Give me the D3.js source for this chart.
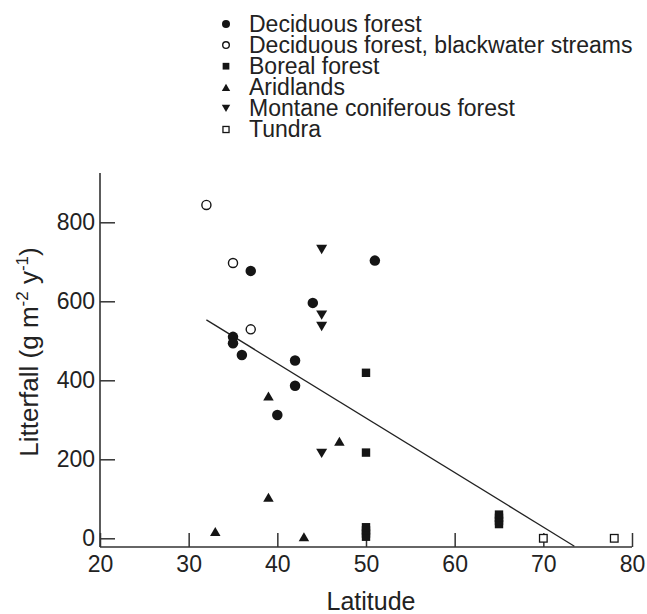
<!DOCTYPE html>
<html>
<head>
<meta charset="utf-8">
<script src="https://cdnjs.cloudflare.com/ajax/libs/d3/7.8.5/d3.min.js"></script>
<style>
  body { margin: 0; background: #fff; }
  text { font-family: "Liberation Sans", Arial, sans-serif; fill: #222; }
</style>
</head>
<body>
<svg id="chart" width="647" height="614"></svg>
<script>
// Datos (latitud, hojarasca g m-2 y-1)
const deciduousLat = [37, 51, 44, 35, 35, 36, 42, 42, 40];
const deciduousVal = [677, 703, 596, 510, 494, 464, 450, 386, 312];

const blackwaterLat = [32, 35, 37];
const blackwaterVal = [844, 697, 529];

const borealLat = [50, 50, 50, 50, 50, 50, 65, 65, 65, 65];
const borealVal = [419, 217, 4, 12, 20, 28, 36, 44, 52, 60];

const aridLat = [39, 47, 39, 33, 43];
const aridVal = [360, 246, 104, 17, 4];

const montaneLat = [45, 45, 45, 45];
const montaneVal = [731, 565, 536, 215];

const tundraLat = [70, 78];
const tundraVal = [0, 0];

// recta de regresion (extremos)
const fitLat = [32, 73.5];
const fitVal = [553, -20];

const legendLabels = [
    "Deciduous forest",
    "Deciduous forest, blackwater streams",
    "Boreal forest",
    "Aridlands",
    "Montane coniferous forest",
    "Tundra"
];
const legendSymbols = ["circle", "openCircle", "square", "triUp", "triDown", "openSquare"];

const xTicks = [20, 30, 40, 50, 60, 70, 80];
const yTicks = [0, 200, 400, 600, 800];

const scatter = () => {
    const svg = d3.select('#chart');
    const ink = '#151515';
    const axisColor = '#333';

    //Escalas
    const x = d3.scaleLinear().domain([20, 80]).range([100, 632]);
    const y = d3.scaleLinear().domain([0, 800]).range([538.3, 222.3]);
    const yFloor = -22;
    const yTop = 925;
    const base = y(yFloor);

    //Simbolos
    const drawSymbol = (g, type, cx, cy, s) => {
        if (type === 'circle') {
            g.append('circle').attr('cx', cx).attr('cy', cy).attr('r', s / 2).attr('fill', ink);
        } else if (type === 'openCircle') {
            g.append('circle').attr('cx', cx).attr('cy', cy).attr('r', s / 2 - 0.7)
                .attr('fill', '#fff').attr('stroke', ink).attr('stroke-width', 1.4);
        } else if (type === 'square') {
            g.append('rect').attr('x', cx - s * 0.42).attr('y', cy - s * 0.42)
                .attr('width', s * 0.84).attr('height', s * 0.84).attr('fill', ink);
        } else if (type === 'openSquare') {
            g.append('rect').attr('x', cx - s * 0.38).attr('y', cy - s * 0.38)
                .attr('width', s * 0.76).attr('height', s * 0.76)
                .attr('fill', '#fff').attr('stroke', ink).attr('stroke-width', 1.3);
        } else {
            const w = s * 1.05, h = s * 0.9;
            const up = type === 'triUp';
            const p = up
                ? `M${cx},${cy - h / 2}L${cx + w / 2},${cy + h / 2}L${cx - w / 2},${cy + h / 2}Z`
                : `M${cx},${cy + h / 2}L${cx + w / 2},${cy - h / 2}L${cx - w / 2},${cy - h / 2}Z`;
            g.append('path').attr('d', p).attr('fill', ink);
        }
    };

    //Ejes
    const axisX = d3.axisBottom(x).tickValues(xTicks).tickSize(-14).tickPadding(9);
    const gx = svg.append('g')
        .attr('transform', `translate(0,${base})`)
        .call(axisX);
    gx.select('.domain').remove();
    gx.selectAll('line').attr('stroke', axisColor).attr('stroke-width', 1.5);
    gx.selectAll('text').attr('font-size', 23).attr('fill', '#222')
        .attr('font-family', '"Liberation Sans", Arial, sans-serif');

    const axisY = d3.axisLeft(y).tickValues(yTicks).tickSize(-15).tickPadding(5);
    const gy = svg.append('g')
        .attr('transform', `translate(${x(20)},0)`)
        .call(axisY);
    gy.select('.domain').remove();
    gy.selectAll('line').attr('stroke', axisColor).attr('stroke-width', 1.5);
    gy.selectAll('text').attr('font-size', 23).attr('fill', '#222')
        .attr('font-family', '"Liberation Sans", Arial, sans-serif');

    // lineas de los ejes
    svg.append('line')
        .attr('x1', x(20)).attr('x2', x(20))
        .attr('y1', y(yTop)).attr('y2', base)
        .attr('stroke', axisColor).attr('stroke-width', 1.6);
    svg.append('line')
        .attr('x1', x(20)).attr('x2', x(80))
        .attr('y1', base).attr('y2', base)
        .attr('stroke', axisColor).attr('stroke-width', 1.6);

    //Recta
    const line = d3.line().x(d => x(d[0])).y(d => y(d[1]));
    svg.append('path')
        .datum(fitLat.map((d, i) => [d, fitVal[i]]))
        .attr('d', line)
        .attr('fill', 'none')
        .attr('stroke', '#222')
        .attr('stroke-width', 1.3);

    //Puntos
    const points = svg.append('g');
    const series = [
        [deciduousLat, deciduousVal, 'circle', 10.5],
        [blackwaterLat, blackwaterVal, 'openCircle', 10.5],
        [borealLat, borealVal, 'square', 10],
        [aridLat, aridVal, 'triUp', 10],
        [montaneLat, montaneVal, 'triDown', 10.5],
        [tundraLat, tundraVal, 'openSquare', 10]
    ];
    series.forEach(([lats, vals, type, s]) => {
        lats.forEach((lat, i) => drawSymbol(points, type, x(lat), y(vals[i]), s));
    });

    //Leyenda (interlineado apretado como en el original)
    const legend = svg.append('g');
    legendLabels.forEach((label, i) => {
        const by = 31.5 + i * 21.1;
        drawSymbol(legend, legendSymbols[i], 226, by - 7.5, 8);
        legend.append('text')
            .attr('x', 249).attr('y', by)
            .attr('font-size', 23)
            .text(label);
    });

    //Titulos de ejes
    svg.append('text')
        .attr('x', 371).attr('y', 610)
        .attr('text-anchor', 'middle')
        .attr('font-size', 25)
        .text('Latitude');

    const yLabel = svg.append('text')
        .attr('transform', 'translate(38,352) rotate(-90)')
        .attr('text-anchor', 'middle')
        .attr('font-size', 26);
    yLabel.append('tspan').text('Litterfall (g m');
    yLabel.append('tspan').attr('dy', -10).attr('font-size', 17).text('-2');
    yLabel.append('tspan').attr('dy', 10).text(' y');
    yLabel.append('tspan').attr('dy', -10).attr('font-size', 17).text('-1');
    yLabel.append('tspan').attr('dy', 10).text(')');
}

scatter()
</script>
</body>
</html>
